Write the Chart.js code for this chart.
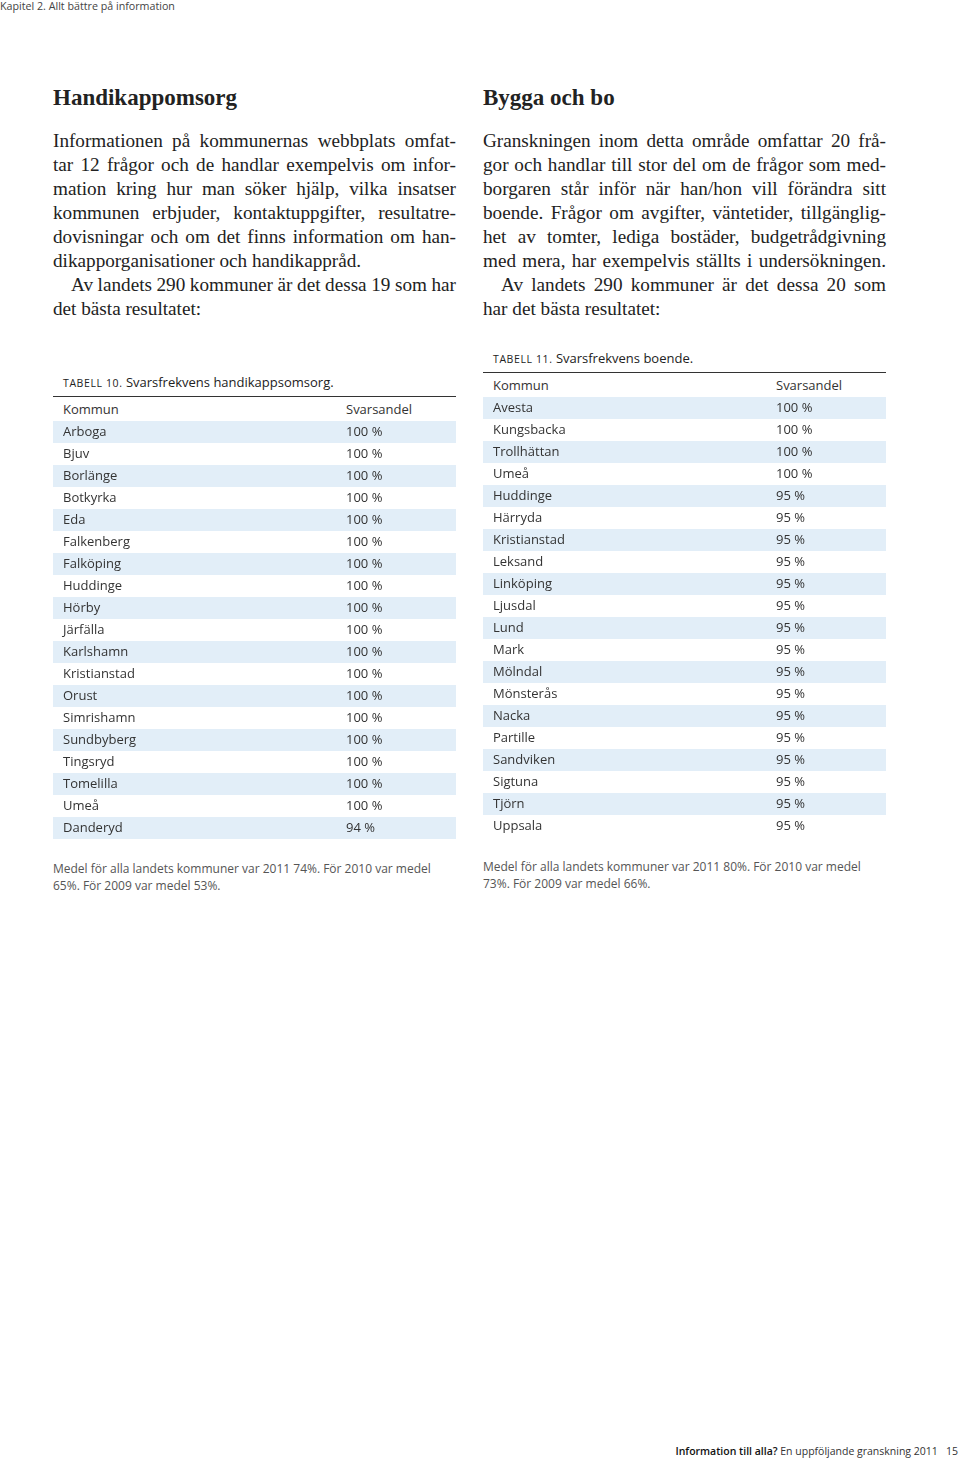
<!DOCTYPE html>
<html lang="sv">
<head>
<meta charset="utf-8">
<title>Handikappomsorg / Bygga och bo</title>
<script src="https://cdn.jsdelivr.net/npm/chart.js@4.4.1/dist/chart.umd.min.js"></script>
<style>
  html, body { margin: 0; padding: 0; background: #fff; }
  body { width: 960px; height: 1458px; position: relative; overflow: hidden; color: #222; }
  .sans { font-family: 'Open Sans', sans-serif; }
  .serif { font-family: 'Liberation Serif', serif; }
  #hdr { position: absolute; left: 0; top: 0; font-size: 10.7px; line-height: 13px; color: #444; }
  .col { position: absolute; width: 403px; }
  .col h2 { margin: 0; font-size: 23px; line-height: 28px; font-weight: bold; color: #222; }
  .body { position: absolute; top: 45px; left: 0; width: 403px; font-size: 19.2px; line-height: 24px; color: #222; }
  .body span { display: block; white-space: nowrap; }
  .body span.j { text-align: justify; text-align-last: justify; }
  .body span.ind { text-indent: 18px; word-spacing: -2px; }
  .cap { position: absolute; left: 10px; font-size: 13px; line-height: 16px; color: #222; }
  .cap b { font-weight: 400; font-size: 10.5px; letter-spacing: 0.6px; }
  .rule { position: absolute; left: 0; width: 403px; border-top: 1.5px solid #333; }
  .thead { position: absolute; left: 0; width: 403px; height: 24px; font-size: 13px; line-height: 24px; color: #333; }
  .thead .a { position: absolute; left: 10px; }
  .thead .b { position: absolute; left: 293px; }
  canvas.tbl { position: absolute; left: 0; }
  .note { position: absolute; left: 0; width: 403px; font-size: 12px; line-height: 17px; color: #555; }
  #ftr { position: absolute; right: 2px; top: 1444px; font-size: 10.5px; line-height: 15px; color: #333; white-space: nowrap; }
  #ftr b { font-weight: 600; color: #111; }
</style>
</head>
<body>
<div id="hdr" class="sans">Kapitel 2. Allt bättre på information</div>

<div class="col" style="left:53px; top:84px;">
  <h2 class="serif">Handikappomsorg</h2>
  <div class="body serif">
    <span class="j">Informationen på kommunernas webbplats omfat-</span>
    <span class="j">tar 12 frågor och de handlar exempelvis om infor-</span>
    <span class="j">mation kring hur man söker hjälp, vilka insatser</span>
    <span class="j">kommunen erbjuder, kontaktuppgifter, resultatre-</span>
    <span class="j">dovisningar och om det finns information om han-</span>
    <span>dikapporganisationer och handikappråd.</span>
    <span class="j ind">Av landets 290 kommuner är det dessa 19 som har</span>
    <span>det bästa resultatet:</span>
  </div>
</div>

<div class="col" style="left:483px; top:84px;">
  <h2 class="serif">Bygga och bo</h2>
  <div class="body serif">
    <span class="j">Granskningen inom detta område omfattar 20 frå-</span>
    <span class="j">gor och handlar till stor del om de frågor som med-</span>
    <span class="j">borgaren står inför när han/hon vill förändra sitt</span>
    <span class="j">boende. Frågor om avgifter, väntetider, tillgänglig-</span>
    <span class="j">het av tomter, lediga bostäder, budgetrådgivning</span>
    <span class="j">med mera, har exempelvis ställts i undersökningen.</span>
    <span class="j ind">Av landets 290 kommuner är det dessa 20 som</span>
    <span>har det bästa resultatet:</span>
  </div>
</div>

<!-- Tabell 10 -->
<div class="col sans" style="left:53px; top:0;">
  <div class="cap" style="top:374px;"><b>TABELL 10.</b> Svarsfrekvens handikappsomsorg.</div>
  <div class="rule" style="top:396px;"></div>
  <div class="thead" style="top:397px;"><span class="a">Kommun</span><span class="b">Svarsandel</span></div>
  <canvas id="tbl10" class="tbl" width="403" height="418" style="top:421px;"></canvas>
  <div class="note" style="top:860px;">Medel för alla landets kommuner var 2011 74%. För 2010 var medel 65%. För 2009 var medel 53%.</div>
</div>

<!-- Tabell 11 -->
<div class="col sans" style="left:483px; top:0;">
  <div class="cap" style="top:350px;"><b>TABELL 11.</b> Svarsfrekvens boende.</div>
  <div class="rule" style="top:372px;"></div>
  <div class="thead" style="top:373px;"><span class="a">Kommun</span><span class="b">Svarsandel</span></div>
  <canvas id="tbl11" class="tbl" width="403" height="440" style="top:397px;"></canvas>
  <div class="note" style="top:858px;">Medel för alla landets kommuner var 2011 80%. För 2010 var medel 73%. För 2009 var medel 66%.</div>
</div>

<div id="ftr" class="sans"><b>Information till alla?</b> En uppföljande granskning 2011&nbsp;&nbsp;&nbsp;15</div>

<script>
// ── Data ─────────────────────────────────────────────────

const kommunerHandikapp = [
  'Arboga', 'Bjuv', 'Borlänge', 'Botkyrka', 'Eda', 'Falkenberg', 'Falköping',
  'Huddinge', 'Hörby', 'Järfälla', 'Karlshamn', 'Kristianstad', 'Orust',
  'Simrishamn', 'Sundbyberg', 'Tingsryd', 'Tomelilla', 'Umeå', 'Danderyd',
];
const svarHandikapp = [
  100, 100, 100, 100, 100, 100, 100, 100, 100, 100,
  100, 100, 100, 100, 100, 100, 100, 100, 94,
];

const kommunerBoende = [
  'Avesta', 'Kungsbacka', 'Trollhättan', 'Umeå', 'Huddinge', 'Härryda',
  'Kristianstad', 'Leksand', 'Linköping', 'Ljusdal', 'Lund', 'Mark',
  'Mölndal', 'Mönsterås', 'Nacka', 'Partille', 'Sandviken', 'Sigtuna',
  'Tjörn', 'Uppsala',
];
const svarBoende = [
  100, 100, 100, 100, 95, 95, 95, 95, 95, 95,
  95, 95, 95, 95, 95, 95, 95, 95, 95, 95,
];

// ── Styles ───────────────────────────────────────────────

const STRIPE = '#e2eef8';
const TEXT   = '#333333';
const FONT   = "13px 'Open Sans', sans-serif";
const VALUE_OFFSET = 293;   // x of the Svarsandel column inside the table
const NAME_OFFSET  = 10;

// Draws the striped rows and cell texts at the category positions of the y scale
const tablePlugin = {
  id: 'tableRows',
  beforeDatasetsDraw(chart) {
    const { ctx, chartArea, scales: { y } } = chart;
    const n = chart.data.labels.length;
    const rowH = (y.bottom - y.top) / n;
    ctx.save();
    ctx.fillStyle = STRIPE;
    chart.data.labels.forEach((_, i) => {
      if (i % 2 !== 0) return;
      const cy = y.getPixelForValue(i);
      ctx.fillRect(chartArea.left, cy - rowH / 2, chartArea.right - chartArea.left, rowH);
    });
    ctx.restore();
  },
  afterDatasetsDraw(chart) {
    const { ctx, chartArea, scales: { y } } = chart;
    const values = chart.data.datasets[0].data;
    ctx.save();
    ctx.font = FONT;
    ctx.fillStyle = TEXT;
    ctx.textBaseline = 'middle';
    ctx.textAlign = 'left';
    chart.data.labels.forEach((name, i) => {
      const cy = y.getPixelForValue(i) + 0.5;
      ctx.fillText(name, chartArea.left + NAME_OFFSET, cy);
      ctx.fillText(values[i] + ' %', chartArea.left + VALUE_OFFSET, cy);
    });
    ctx.restore();
  },
};

function renderTable(id, labels, values) {
  const canvas = document.getElementById(id);
  return new Chart(canvas, {
    type: 'bar',
    data: {
      labels,
      datasets: [{
        label: 'Svarsandel',
        data: values,
        backgroundColor: 'transparent',
        borderWidth: 0,
        barPercentage: 1,
        categoryPercentage: 1,
      }],
    },
    options: {
      indexAxis: 'y',
      responsive: false,
      devicePixelRatio: 1,
      animation: false,
      layout: { padding: 0 },
      plugins: { legend: { display: false }, tooltip: { enabled: false } },
      scales: {
        x: { display: false, min: 0, max: 100 },
        y: { display: false, offset: true },
      },
    },
    plugins: [tablePlugin],
  });
}

renderTable('tbl10', kommunerHandikapp, svarHandikapp);
renderTable('tbl11', kommunerBoende, svarBoende);
</script>
</body>
</html>
